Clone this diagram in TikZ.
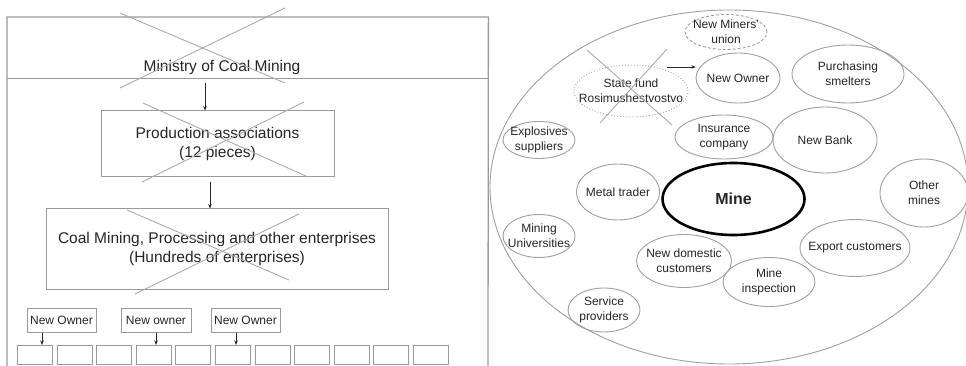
\documentclass[tikz,border=0pt]{standalone}
\usepackage{fontspec}
\setmainfont{Liberation Sans}
\usetikzlibrary{shapes.geometric,arrows.meta}
\definecolor{ink}{HTML}{262626}
\definecolor{framegray}{HTML}{9A9A9A}
\definecolor{crossgray}{HTML}{ABABAB}
\definecolor{ellgray}{HTML}{A0A0A0}
\newcommand\bigtxt{\fontsize{15.5}{19.5}\selectfont}
\newcommand\smalltxt{\fontsize{12}{15}\selectfont}
\begin{document}
\begin{tikzpicture}[x=1pt,y=-1pt,
  every node/.style={text=ink},
  frameline/.style={draw=framegray,line width=1.3pt},
  boxline/.style={draw=framegray,line width=1pt},
  cross/.style={draw=crossgray,line width=0.9pt},
  orgbox/.style={rectangle,boxline,inner sep=0pt,align=center,font=\bigtxt},
  ownerbox/.style={rectangle,boxline,inner sep=0pt,minimum height=24,font=\smalltxt},
  unitbox/.style={rectangle,boxline,inner sep=0pt,minimum width=35,minimum height=19},
  arr/.style={draw=ink,line width=0.7pt,-{Stealth[length=4.5pt,width=3.5pt]}},
  ell/.style={ellipse,draw=ellgray,line width=0.9pt,inner sep=0pt},
  lbl/.style={align=center,font=\smalltxt,text=ink,inner sep=0pt}]
\useasboundingbox (0,0) rectangle (966,366);
\fill[white] (0,0) rectangle (966,366);

% ---------- left panel: the old hierarchy ----------
\node[rectangle,draw=none,anchor=north west,minimum width=481,minimum height=61,inner sep=0pt] (band) at (7,17) {};
\draw[frameline] (7,366) -- (band.north west) -- (band.north east) -- (488,366);
\draw[frameline] (band.south west) -- (band.south east);
\node[font=\bigtxt,inner sep=1pt] (ministry) at (222,67) {Ministry of Coal Mining};
\draw[cross] (120,13) -- (285,83);
\draw[cross] (120,88) -- (285,8);

\node[orgbox,minimum width=233,minimum height=66] (prod) at (217.5,144) {Production associations\\(12 pieces)};
\draw[cross] (143,103) -- (308,177);
\draw[cross] (142,182) -- (304,102);

\node[orgbox,minimum width=342,minimum height=80] (coal) at (217,249) {Coal Mining, Processing and other enterprises\\(Hundreds of enterprises)};
\draw[cross] (127,210) -- (289,280);
\draw[cross] (135,294) -- (299,214);

\coordinate (xa) at (205,0);
\coordinate (xb) at (210,0);
\draw[arr,shorten <=5pt] (band.south -| xa) -- (prod.north -| xa);
\draw[arr,shorten <=5pt] (prod.south -| xb) -- (coal.north -| xb);

\node[ownerbox,minimum width=69] (own1) at (61.5,320) {New Owner};
\node[ownerbox,minimum width=70] (own2) at (156,320) {New owner};
\node[ownerbox,minimum width=69] (own3) at (245.5,320) {New Owner};

\foreach \i in {1,...,11}
  \node[unitbox,anchor=north west] (unit\i) at ({17+(\i-1)*39.6},345) {};

\coordinate (xo1) at (42,0);
\coordinate (xo2) at (156,0);
\coordinate (xo3) at (236,0);
\draw[arr] (own1.south -| xo1) -- (unit1.north -| xo1);
\draw[arr] (own2.south -| xo2) -- (unit4.north -| xo2);
\draw[arr] (own3.south -| xo3) -- (unit6.north -| xo3);

% ---------- right panel: the mine and its partners ----------
\node[ell,minimum width=478,minimum height=354] (field) at (729,187) {};

\node[ell,dashed,dash pattern=on 3pt off 2pt,minimum width=82,minimum height=35,
  label={[lbl]center:New Miners'\\union}] (union) at (726,32) {};
\node[ell,dotted,minimum width=114,minimum height=52,
  label={[lbl]center:State fund\\Rosimushestvostvo}] (fund) at (631,91) {};
\draw[cross] (587,50) -- (672,125);
\draw[cross] (600,123) -- (667,49);

\node[ell,minimum width=84,minimum height=50,label={[lbl]center:New Owner}] (newowner) at (738,78) {};
\draw[arr,line width=0.6pt,-{Stealth[length=4pt,width=3.5pt]}] (667,67) -- (newowner.west |- 0,67);

\node[ell,minimum width=112,minimum height=58,label={[lbl]center:Purchasing\\smelters}] (smelters) at (848,74) {};
\node[ell,minimum width=72,minimum height=37,label={[lbl]center:Explosives\\suppliers}] (explosives) at (539,140) {};
\node[ell,minimum width=98,minimum height=44,label={[lbl]center:Insurance\\company}] (insurance) at (724,137) {};
\node[ell,minimum width=104,minimum height=66,label={[lbl]center:New Bank}] (bank) at (825,140) {};
\node[ell,minimum width=83,minimum height=56,label={[lbl]center:Metal trader}] (trader) at (618,192) {};
\node[ellipse,draw=black,line width=2.6pt,inner sep=0pt,minimum width=142,minimum height=72,
  font=\fontsize{16}{19}\selectfont\bfseries] (mine) at (733.5,199) {Mine};
\node[ell,minimum width=88,minimum height=68,label={[lbl]center:Other\\mines}] (othermines) at (924,193) {};
\node[ell,minimum width=72,minimum height=43,label={[lbl]center:Mining\\Universities}] (universities) at (539,236) {};
\node[ell,minimum width=95,minimum height=53,label={[lbl]center:New domestic\\customers}] (domestic) at (684,261) {};
\node[ell,minimum width=110,minimum height=57,label={[lbl]center:Export customers}] (export) at (855,248) {};
\node[ell,minimum width=92,minimum height=49,label={[lbl]center:Mine\\inspection}] (inspection) at (769,282) {};
\node[ell,minimum width=72,minimum height=44,label={[lbl]center:Service\\providers}] (service) at (604,310) {};
\end{tikzpicture}
\end{document}
